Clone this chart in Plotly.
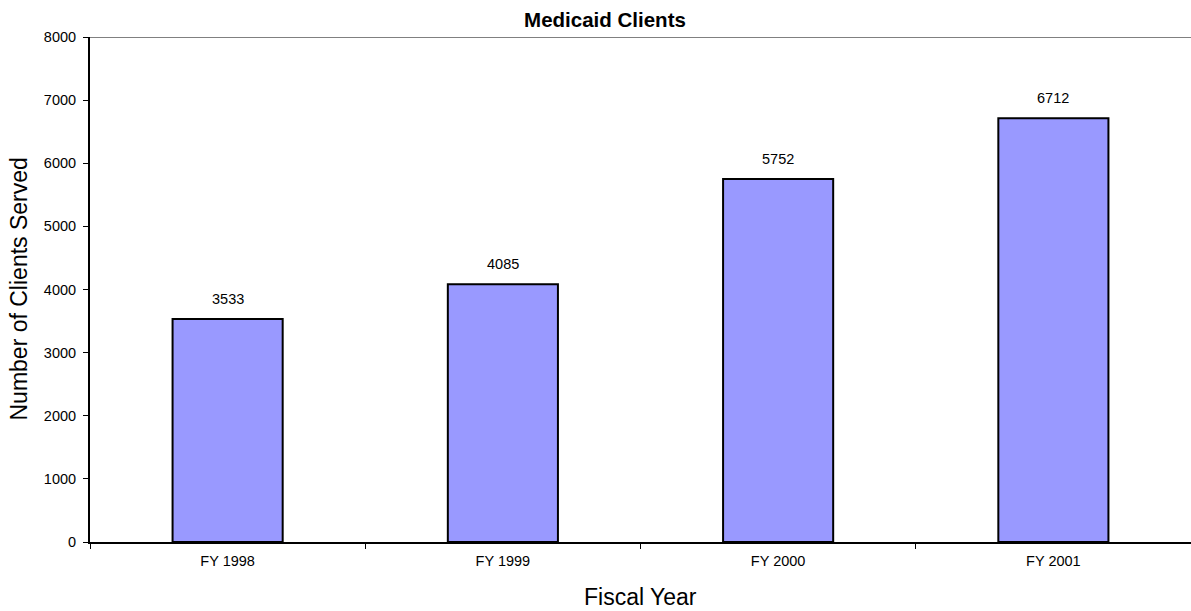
import plotly.graph_objects as go

categories = ["FY 1998", "FY 1999", "FY 2000", "FY 2001"]
clients = [3533, 4085, 5752, 6712]
y_ticks = [0, 1000, 2000, 3000, 4000, 5000, 6000, 7000, 8000]

FONT = "Liberation Sans, Arial, sans-serif"

fig = go.Figure()
fig.add_trace(go.Bar(
    x=categories, y=clients,
    marker=dict(color="#9999FF", line=dict(color="black", width=2)),
    width=0.4,
    cliponaxis=False,
))

# value labels above bars
for c, v in zip(categories, clients):
    fig.add_annotation(x=c, y=v, text=str(v), showarrow=False, xref="x", yref="y",
                       yanchor="bottom", yshift=10,
                       font=dict(family=FONT, size=14.5, color="black"))

fig.add_shape(type="line", xref="paper", yref="y", x0=0, x1=1, y0=8000, y1=8000,
              line=dict(color="#808080", width=2))

# axis titles
fig.add_annotation(text="Fiscal Year", xref="paper", yref="paper", x=0.5, y=0,
                   xanchor="center", yanchor="middle", yshift=-55, showarrow=False,
                   font=dict(family=FONT, size=23, color="black"))
fig.add_annotation(text="Number of Clients Served", xref="paper", yref="paper", x=0, y=0.5,
                   xanchor="center", yanchor="middle", xshift=-72, textangle=-90,
                   showarrow=False, font=dict(family=FONT, size=23, color="black"))

fig.update_layout(
    width=1191, height=611,
    margin=dict(l=90, r=0, t=37, b=69),
    paper_bgcolor="white", plot_bgcolor="white",
    font=dict(family=FONT, color="black", size=14.5),
    title=dict(text="<b>Medicaid Clients</b>", x=605/1191, xanchor="center",
               xref="container", y=1-20/611, yanchor="middle",
               font=dict(size=20.5, color="black")),
    showlegend=False,
    bargap=0.6,
)
fig.update_xaxes(
    showline=True, linecolor="black", linewidth=2,
    ticks="outside", tickson="boundaries", ticklen=5, tickcolor="black",
    tickfont=dict(size=14.5), ticklabelstandoff=5,
    showgrid=False,
)
fig.update_yaxes(
    range=[0, 8000], tickvals=y_ticks,
    showline=True, linecolor="black", linewidth=2,
    ticks="outside", ticklen=5, tickcolor="black",
    tickfont=dict(size=14.5), ticklabelstandoff=4,
    showgrid=False, zeroline=False,
)

fig.write_html("out.html")
